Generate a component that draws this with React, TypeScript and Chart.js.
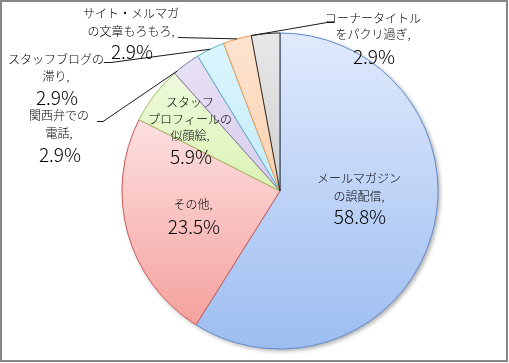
import React, { useEffect, useRef } from 'react';
import { Chart, registerables } from 'chart.js';

Chart.register(...registerables);

// ---- data ----
const categories = [
  'メールマガジンの誤配信',
  'その他',
  'スタッフプロフィールの似顔絵',
  '関西弁での電話',
  'スタッフブログの滞り',
  'サイト・メルマガの文章もろもろ',
  'コーナータイトルをパクリ過ぎ',
];
const percentValues = [58.8, 23.5, 5.9, 2.9, 2.9, 2.9, 2.9];
const labelLines = [
  ['メールマガジン', 'の誤配信,'],
  ['その他,'],
  ['スタッフ', 'プロフィールの', '似顔絵,'],
  ['関西弁での', '電話,'],
  ['スタッフブログの', '滞り,'],
  ['サイト・メルマガ', 'の文章もろもろ,'],
  ['コーナータイトル', 'をパクリ過ぎ,'],
];

// ---- styles / layout ----
const fillTop = ['#e0eafc', '#fde0e0', '#eefadc', '#e8e2f5', '#dcf5fd', '#fee4d0', '#e8e8e8'];
const fillBottom = ['#9dbdf1', '#f4a19e', '#dcf2b4', '#d6ccec', '#c4ecfa', '#fbd2b0', '#d0d0d0'];
const borderColors = ['#5f8cd0', '#cc5a56', '#a3c066', '#8a72b0', '#5ab4cc', '#f39a52', '#2a2a2a'];
const PIE_RADIUS = 158;
const FONT = '"Noto Sans CJK JP", "Noto Sans", sans-serif';

const labelLayout = [
  { x: 359, lineYs: [178, 196], pctY: 217 },
  { x: 193, lineYs: [204], pctY: 227 },
  { x: 190, lineYs: [102, 119, 135], pctY: 157 },
  { x: 59, lineYs: [115, 133], pctY: 155 },
  { x: 56, lineYs: [59, 76], pctY: 98 },
  { x: 131, lineYs: [13, 31], pctY: 52 },
  { x: 373, lineYs: [18, 34], pctY: 57 },
];
const leaders = [
  { index: 3, points: [[97, 121], [103, 121]], frac: 0.12 },
  { index: 4, points: [[104, 62], [111, 62]], frac: 0.5 },
  { index: 5, points: [[178, 37]], frac: 0.5 },
  { index: 6, points: [[334, 22], [327, 22]], frac: 0.0 },
];

function sliceGradient(c: any) {
  const chart = c.chart;
  const area = chart.chartArea;
  const i = c.dataIndex;
  if (!area || i === undefined) return fillBottom[i ?? 0];
  const cx = (area.left + area.right) / 2;
  const cy = (area.top + area.bottom) / 2;
  const total = percentValues.reduce((a, b) => a + b, 0);
  let acc = 0;
  for (let j = 0; j < i; j++) acc += percentValues[j];
  const a0 = -Math.PI / 2 + (2 * Math.PI * acc) / total;
  const a1 = a0 + (2 * Math.PI * percentValues[i]) / total;
  let ymin = cy;
  let ymax = cy;
  const consider = (a: number) => {
    const y = cy + PIE_RADIUS * Math.sin(a);
    ymin = Math.min(ymin, y);
    ymax = Math.max(ymax, y);
  };
  consider(a0);
  consider(a1);
  for (const k of [-Math.PI / 2, Math.PI / 2, (3 * Math.PI) / 2]) {
    if (k >= a0 && k <= a1) consider(k);
  }
  const g = chart.ctx.createLinearGradient(0, ymin, 0, ymax);
  g.addColorStop(0, fillTop[i]);
  g.addColorStop(1, fillBottom[i]);
  return g;
}

const framePlugin = {
  id: 'frame',
  beforeDraw(chart: any) {
    const ctx = chart.ctx;
    ctx.save();
    ctx.fillStyle = '#fefffe';
    ctx.fillRect(0, 0, chart.width, chart.height);
    ctx.strokeStyle = '#878787';
    ctx.lineWidth = 2;
    ctx.strokeRect(1, 1, chart.width - 3, chart.height - 3);
    ctx.restore();
  },
  beforeDatasetsDraw(chart: any) {
    const arc = chart.getDatasetMeta(0).data[0];
    if (!arc) return;
    const ctx = chart.ctx;
    ctx.save();
    ctx.shadowColor = 'rgba(0,0,0,0.35)';
    ctx.shadowBlur = 4;
    ctx.shadowOffsetX = 2;
    ctx.shadowOffsetY = 2;
    ctx.fillStyle = '#ffffff';
    ctx.beginPath();
    ctx.arc(arc.x, arc.y, arc.outerRadius, 0, Math.PI * 2);
    ctx.fill();
    ctx.restore();
  },
  afterDatasetsDraw(chart: any) {
    const ctx = chart.ctx;
    const arcs = chart.getDatasetMeta(0).data;
    ctx.save();
    // leader lines
    ctx.strokeStyle = '#1a1a1a';
    ctx.lineWidth = 1;
    for (const l of leaders) {
      const a = arcs[l.index];
      const ang = a.startAngle + (a.endAngle - a.startAngle) * l.frac;
      const ex = a.x + a.outerRadius * Math.cos(ang);
      const ey = a.y + a.outerRadius * Math.sin(ang);
      ctx.beginPath();
      ctx.moveTo(l.points[0][0], l.points[0][1] + 0.5);
      for (let k = 1; k < l.points.length; k++) ctx.lineTo(l.points[k][0], l.points[k][1] + 0.5);
      ctx.lineTo(ex, ey);
      ctx.stroke();
    }
    // labels
    ctx.fillStyle = '#000000';
    ctx.textAlign = 'center';
    ctx.textBaseline = 'middle';
    labelLayout.forEach((lay, i) => {
      ctx.font = `300 12px ${FONT}`;
      labelLines[i].forEach((t, k) => ctx.fillText(t, lay.x, lay.lineYs[k]));
      ctx.font = `300 19px ${FONT}`;
      ctx.fillText(percentValues[i].toFixed(1) + '%', lay.x + 1, lay.pctY);
    });
    ctx.restore();
  },
};

export default function App() {
  const ref = useRef<HTMLCanvasElement | null>(null);
  useEffect(() => {
    if (!ref.current) return;
    const chart = new Chart(ref.current, {
      type: 'pie',
      data: {
        labels: categories,
        datasets: [
          {
            data: percentValues,
            backgroundColor: sliceGradient as any,
            borderColor: borderColors,
            borderWidth: 1,
          },
        ],
      },
      options: {
        responsive: false,
        animation: false,
        events: [],
        radius: PIE_RADIUS,
        layout: { padding: { left: 122, right: 71, top: 33, bottom: 14 } },
        plugins: {
          legend: { display: false },
          tooltip: { enabled: false },
          title: { display: false },
        },
      } as any,
      plugins: [framePlugin],
    });
    return () => chart.destroy();
  }, []);
  return (
    <div style={{ position: 'fixed', left: 0, top: 0, width: 509, height: 363 }}>
      <canvas ref={ref} width={509} height={363} style={{ display: 'block' }} />
    </div>
  );
}
